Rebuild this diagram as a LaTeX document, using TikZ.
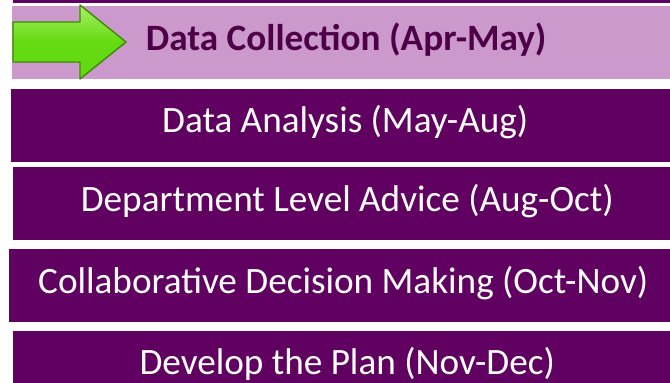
\documentclass[tikz,border=0pt]{standalone}
\usepackage{fontspec}
\setmainfont{Carlito}
\usepackage{xcolor}
\usepackage{tikz}
\usetikzlibrary{positioning}

\definecolor{plum}{RGB}{96,0,96}
\definecolor{lilac}{RGB}{204,153,204}
\definecolor{grape}{RGB}{77,0,71}
\definecolor{leaf}{RGB}{100,218,18}
\definecolor{leaflight}{RGB}{168,240,100}
\definecolor{leafdark}{RGB}{60,140,0}

\begin{document}
\begin{tikzpicture}[
    x=1pt, y=1pt,
    node distance=9pt,
    stage/.style={rectangle, fill=plum, minimum width=668pt, minimum height=73pt, inner sep=0pt, text height=24pt, text depth=9pt, text=white, font=\fontsize{37.2}{42}\selectfont},
    current/.style={stage, fill=lilac, text=grape, font=\fontsize{37.2}{42}\selectfont\bfseries},
    marker/.style={draw=leafdark, line width=1.4pt, line join=round, top color=leaflight, bottom color=leaf, middle color=leaf}
]
    \useasboundingbox (0,0) rectangle (670,-383);
    \clip (0,0) rectangle (670,-383);

    % Current stage
    \node[current, anchor=north west] (collect) at (12,-6) {Data Collection (Apr-May)};

    % Stage above, only its lower edge shows
    \node[stage, above=3pt of collect, xshift=1pt] (before) {};

    % Later stages
    \node[stage, below=9pt of collect, xshift=-1pt] (analyse) {Data Analysis (May-Aug)};
    \node[stage, below=5pt of analyse, xshift=2pt] (advice) {Department Level Advice (Aug-Oct)};
    \node[stage, below=9pt of advice, xshift=-4pt] (decide) {Collaborative Decision Making (Oct-Nov)};
    \node[stage, below=8pt of decide, xshift=4pt] (plan) {Develop the Plan (Nov-Dec)};

    % Green arrow on the current stage
    \draw[marker] (13,-22) -- (80,-22) -- (80,-5) -- (126,-42) -- (80,-79) -- (80,-62) -- (13,-62) -- cycle;
\end{tikzpicture}
\end{document}
